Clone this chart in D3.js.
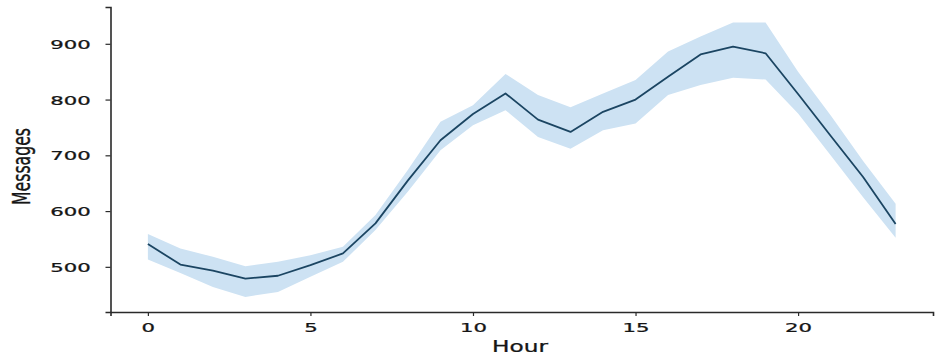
<!DOCTYPE html>
<html>
<head>
<meta charset="utf-8">
<script src="https://cdn.jsdelivr.net/npm/d3@7/dist/d3.min.js"></script>
<style>
  html, body { margin: 0; padding: 0; background: #fff; }
  svg { display: block; }
  text { font-family: "DejaVu Sans", sans-serif; fill: #151515; stroke: #151515; stroke-width: 0.25px; }
</style>
</head>
<body>
<svg id="chart" width="939" height="355"></svg>
<script>
// Hourly message volume: mean with confidence band
const hours = [0,1,2,3,4,5,6,7,8,9,10,11,12,13,14,15,16,17,18,19,20,21,22,23];
const meanMessages = [541,504,493,479,484,503,524,578,655,727,774,811,764,742,778,800,841,881,895,883,810,735,661,577];
const upperMessages = [559,533,518,501,509,521,536,593,674,760,790,846,808,786,811,835,886,913,938,938,850,772,690,613];
const lowerMessages = [513,489,464,446,455,482,509,566,635,709,754,781,733,712,745,757,808,826,839,836,775,700,625,552];
const xTicks = [0,5,10,15,20];
const yTicks = [500,600,700,800,900];

const svg = d3.select("#chart");
const plotLeft = 110.5, plotRight = 933, plotTop = 7, plotBottom = 312;

const x = d3.scaleLinear().domain([-1.15, 24.15]).range([plotLeft, plotRight]);
const y = d3.scaleLinear().domain([419, 966]).range([plotBottom, plotTop]);

const rows = hours.map((h, i) => ({h, m: meanMessages[i], lo: lowerMessages[i], hi: upperMessages[i]}));

// confidence band
svg.append("path")
  .datum(rows)
  .attr("fill", "#cde2f3")
  .attr("d", d3.area().x(d => x(d.h)).y0(d => y(d.lo)).y1(d => y(d.hi)));

// mean line
svg.append("path")
  .datum(rows)
  .attr("fill", "none")
  .attr("stroke", "#1b4562")
  .attr("stroke-width", 1.8)
  .attr("stroke-linejoin", "round")
  .attr("d", d3.line().x(d => x(d.h)).y(d => y(d.m)));

// axes
const xAxis = svg.append("g")
  .attr("transform", `translate(0,${plotBottom})`)
  .call(d3.axisBottom(x).tickValues(xTicks).tickSize(4).tickPadding(0).tickFormat(d3.format("d")));
const yAxis = svg.append("g")
  .attr("transform", `translate(${plotLeft},0)`)
  .call(d3.axisLeft(y).tickValues(yTicks).tickSize(5).tickPadding(0).tickFormat(d3.format("d")));

[xAxis, yAxis].forEach(g => {
  g.select(".domain").attr("stroke", "#2a2a2a").attr("stroke-width", 1.6);
  g.selectAll(".tick line").attr("stroke", "#2a2a2a").attr("stroke-width", 1.2);
  g.selectAll(".tick text").attr("font-size", 12.5).attr("fill", "#151515");
});

// wide tick labels
xAxis.selectAll(".tick text")
  .attr("y", 0).attr("dy", null)
  .attr("transform", `translate(0,${331.5 - plotBottom}) scale(1.7,1)`);
yAxis.selectAll(".tick text")
  .attr("x", 0).attr("dy", "0.36em")
  .attr("transform", `translate(${90.7 - plotLeft},0) scale(1.7,1)`);

// axis titles
svg.append("text")
  .attr("transform", "translate(520,351.5) scale(1.55,1)")
  .attr("text-anchor", "middle")
  .attr("font-size", 15)
  .text("Hour");

svg.append("text")
  .attr("transform", "translate(29.5,166.5) scale(1.53,1) rotate(-90)")
  .attr("text-anchor", "middle")
  .attr("font-size", 15.7)
  .text("Messages");
</script>
</body>
</html>
